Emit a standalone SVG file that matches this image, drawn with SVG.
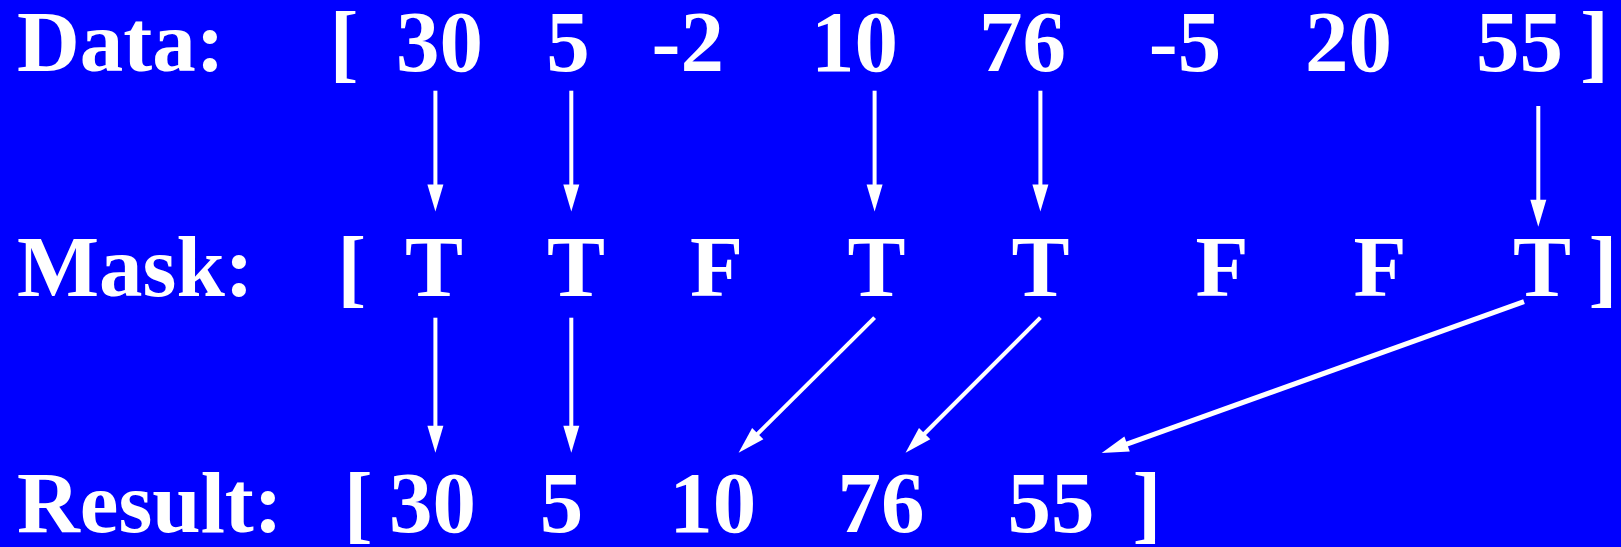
<svg xmlns="http://www.w3.org/2000/svg" width="1621" height="547" viewBox="0 0 1621 547">
<style>
text{font-family:"Liberation Serif","Times New Roman",serif;font-weight:bold;font-size:87px;fill:#fff}
.c{text-anchor:middle}
.a{stroke:#fff;stroke-width:4;fill:none;marker-end:url(#ah)}
.d{stroke-width:5}
</style>
<defs>
<marker id="ah" markerUnits="userSpaceOnUse" markerWidth="27" markerHeight="16" refX="7" refY="8" orient="auto" overflow="visible">
<path d="M0,0 L27,8 L0,16 z" fill="#fff"/>
</marker>
</defs>
<rect width="1621" height="547" fill="#0000ff"/>
<g id="data-row">
<text x="17" y="71">Data:</text>
<text class="c" x="344" y="71">[</text>
<text class="c" x="439.6" y="71">30</text>
<text class="c" x="568" y="71">5</text>
<text class="c" x="687.7" y="71">-2</text>
<text class="c" x="854.4" y="71">10</text>
<text class="c" x="1022.5" y="71">76</text>
<text class="c" x="1185" y="71">-5</text>
<text class="c" x="1348.5" y="71">20</text>
<text class="c" x="1519.5" y="71">55</text>
<text class="c" x="1594.4" y="71">]</text>
</g>
<g id="mask-row">
<text x="17" y="296">Mask:</text>
<text class="c" x="351.7" y="296">[</text>
<text class="c" x="434" y="296">T</text>
<text class="c" x="576" y="296">T</text>
<text class="c" x="716.5" y="296">F</text>
<text class="c" x="876.5" y="296">T</text>
<text class="c" x="1040.5" y="296">T</text>
<text class="c" x="1222" y="296">F</text>
<text class="c" x="1380" y="296">F</text>
<text class="c" x="1542" y="296">T</text>
<text class="c" x="1603" y="296">]</text>
</g>
<g id="result-row">
<text x="17" y="531.7">Result:</text>
<text class="c" x="358.3" y="531.7">[</text>
<text class="c" x="432.6" y="531.7">30</text>
<text class="c" x="561.5" y="531.7">5</text>
<text class="c" x="712.8" y="531.7">10</text>
<text class="c" x="881" y="531.7">76</text>
<text class="c" x="1051" y="531.7">55</text>
<text class="c" x="1147" y="531.7">]</text>
</g>
<g id="connectors">
<line class="a" x1="435.4" y1="90.7" x2="435.4" y2="191.5"/>
<line class="a" x1="571.3" y1="90.7" x2="571.3" y2="191.5"/>
<line class="a" x1="874.6" y1="90.7" x2="874.6" y2="191.5"/>
<line class="a" x1="1040.4" y1="90.7" x2="1040.4" y2="191.5"/>
<line class="a" x1="1538.3" y1="106" x2="1538.3" y2="206.7"/>
<line class="a" x1="435.4" y1="317.7" x2="435.4" y2="432.7"/>
<line class="a" x1="571.3" y1="317.7" x2="571.3" y2="432.7"/>
<line class="a" x1="874.6" y1="317.7" x2="752.8" y2="438.6"/>
<line class="a" x1="1040.4" y1="317.7" x2="919.7" y2="438.5"/>
<line class="a d" x1="1524" y1="301.7" x2="1120.5" y2="446.3"/>
</g>
</svg>
